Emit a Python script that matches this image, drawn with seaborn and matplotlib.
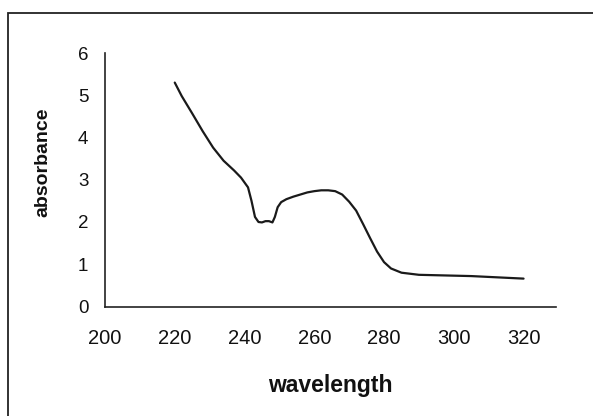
import numpy as np
import pandas as pd
import matplotlib.pyplot as plt
import seaborn as sns
from matplotlib.patches import Rectangle

# absorbance spectrum
wavelength = [220, 222, 225, 228, 231, 234, 237, 239, 241, 242, 243, 244,
              245, 246, 247, 248, 248.7, 249.5, 250.5, 252, 254, 256, 258,
              260, 262, 264, 266, 268, 270, 272, 274, 276, 278, 280, 282,
              285, 290, 295, 300, 305, 310, 315, 320]
absorbance = [5.30, 4.98, 4.57, 4.15, 3.76, 3.45, 3.22, 3.05, 2.82, 2.50, 2.12, 2.00,
              1.99, 2.02, 2.02, 1.99, 2.12, 2.35, 2.47, 2.54, 2.60, 2.65, 2.70,
              2.73, 2.75, 2.75, 2.73, 2.65, 2.48, 2.27, 1.95, 1.62, 1.30, 1.05, 0.90,
              0.80, 0.75, 0.74, 0.73, 0.72, 0.70, 0.68, 0.66]
x_ticks = [200, 220, 240, 260, 280, 300, 320]
y_ticks = [0, 1, 2, 3, 4, 5, 6]

df = pd.DataFrame({"wavelength": wavelength, "absorbance": absorbance})

sns.set_style("white")
plt.rcParams["font.family"] = ["Liberation Sans", "DejaVu Sans"]

fig = plt.figure(figsize=(5.93, 4.16), dpi=100)
ax = fig.add_axes([105 / 593, 1 - 306.5 / 416, (556 - 105) / 593, (306.5 - 53) / 416])

sns.lineplot(data=df, x="wavelength", y="absorbance", color="#1a1a1a", lw=1.6,
             sort=False, ax=ax)

ax.set_xlim(200, 329.3)
ax.set_ylim(0, 6)
ax.set_xticks(x_ticks)
ax.set_yticks(y_ticks)
ax.tick_params(axis="x", direction="out", length=4, width=1, colors="#222222",
               labelsize=14.5, pad=12.5)
ax.tick_params(axis="y", direction="out", length=4, width=1, colors="#222222",
               labelsize=13.5, pad=8)
for lbl in ax.get_xticklabels() + ax.get_yticklabels():
    lbl.set_color("#111111")

sns.despine(ax=ax)
for side in ["left", "bottom"]:
    ax.spines[side].set_color("#222222")
    ax.spines[side].set_linewidth(1.2)

ax.set_xlabel("wavelength", fontsize=16.5, fontweight="bold", color="#111111")
ax.set_ylabel("absorbance", fontsize=14, fontweight="bold", color="#111111")
ax.xaxis.set_label_coords(0.5, -0.267)
ax.yaxis.set_label_coords(-0.118, 0.57)

# chart border from the scanned page (left and top edges only visible)
fig.patches.append(Rectangle((8 / 593, -0.1), 1.2, 1 - 13 / 416 + 0.1,
                             transform=fig.transFigure, fill=False,
                             edgecolor="#222222", lw=1.3))

fig.savefig("out.png", dpi=100)
